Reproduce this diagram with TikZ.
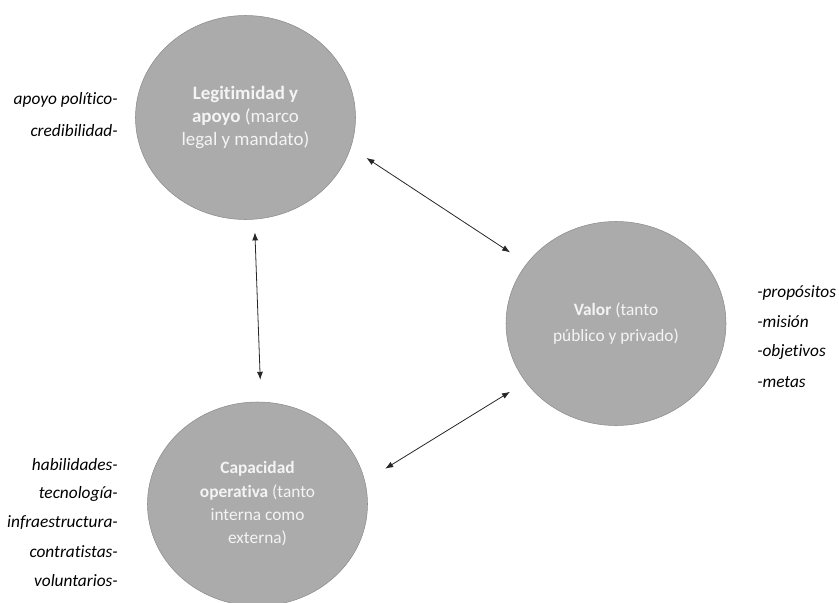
\documentclass[tikz,border=0pt]{standalone}
\usepackage{fontspec}
\setmainfont{Carlito}[Ligatures=NoCommon]
\usetikzlibrary{shapes.geometric,arrows.meta}
\definecolor{bubblegray}{HTML}{ABABAB}
\definecolor{bordergray}{HTML}{8C8C8C}
\definecolor{softwhite}{HTML}{F4F4F4}

\begin{document}
\begin{tikzpicture}[x=0.75pt,y=-0.75pt]
	% Styles
	\tikzset{bubble/.style={ellipse, draw=bordergray, fill=bubblegray, minimum width=165pt, minimum height=153pt, inner sep=0pt, align=center, text=softwhite, font=\fontsize{13}{17.5}\selectfont}}
	\tikzset{side/.style={inner sep=0pt, font=\fontsize{13}{16}\selectfont\itshape}}
	\tikzset{link/.style={line width=0.6pt, color=black!85, {Latex[length=6pt,width=4.5pt]}-{Latex[length=6pt,width=4.5pt]}}}
	
	\useasboundingbox (0,0) rectangle (839,603);
	
	% Draw the circles
	\node[bubble, font=\fontsize{14.2}{17.5}\selectfont] (legit) at (245.5,117.5) {\textbf{Legitimidad y}\\ \textbf{apoyo} (marco\\ legal y mandato)};
	\node[bubble, font=\fontsize{13}{19}\selectfont] (valor) at (616,323.5) {\textbf{Valor} (tanto\\ público y privado)};
	\node[bubble] (capac) at (257.5,504) {\textbf{Capacidad}\\ \textbf{operativa} (tanto\\ interna como\\ externa)};
	
	% Draw the arrows
	\draw[link, shorten <=9.75pt, shorten >=16.5pt] (legit.-85) -- (capac.88);
	\draw[link, shorten <=14pt, shorten >=15pt] (legit.-16) -- (valor.146);
	\draw[link, shorten <=17.8pt, shorten >=13.8pt] (capac.12.5) -- (valor.213.5);
	
	% Left labels, top circle
	\node[side, anchor=east] (apoyo) at (118,100) {apoyo político-};
	\node[side, anchor=east] (credib) at (118,131) {credibilidad-};
	
	% Right labels
	\node[side, anchor=west] (propos) at (757,293) {-propósitos};
	\node[side, anchor=west] (mision) at (757,322) {-misión};
	\node[side, anchor=west] (objet) at (757,352) {-objetivos};
	\node[side, anchor=west] (metas) at (757,382) {-metas};
	
	% Left labels, bottom circle
	\node[side, anchor=east] (habil) at (118,465) {habilidades-};
	\node[side, anchor=east] (tecno) at (118,494) {tecnología-};
	\node[side, anchor=east] (infra) at (118,523) {infraestructura-};
	\node[side, anchor=east] (contra) at (118,552) {contratistas-};
	\node[side, anchor=east] (volun) at (118,581) {voluntarios-};
	
\end{tikzpicture}
\end{document}
